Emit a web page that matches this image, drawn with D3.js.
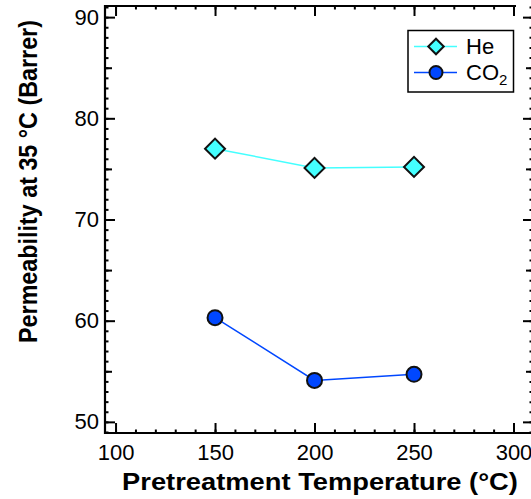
<!DOCTYPE html>
<html>
<head>
<meta charset="utf-8">
<script src="https://cdn.jsdelivr.net/npm/d3@7"></script>
<style>
  html, body { margin: 0; padding: 0; background: #fff; }
  svg { display: block; }
  text { font-family: "Liberation Sans", Arial, Helvetica, sans-serif; fill: #000; }
</style>
</head>
<body>
<svg id="chart" width="531" height="499"></svg>
<script>
// Pretreatment temperatures (°C)
const temperatures = [150, 200, 250];
// Pure-gas permeabilities at 35 °C (Barrer)
const heValues = [77.0, 75.1, 75.2];
const co2Values = [60.3, 54.1, 54.7];
// Axis ticks
const xTicks = [100, 150, 200, 250, 300];
const yTicks = [50, 60, 70, 80, 90];

const svg = d3.select("#chart");

const plotLeft = 105, plotBottom = 433, plotTop = 6, rightAxisX = 533;
const x = d3.scaleLinear().domain([94.7, 309.8]).range([plotLeft, rightAxisX]);
const y = d3.scaleLinear().domain([48.9, 91.1]).range([plotBottom, plotTop]);

const xMinor = d3.range(100, 301, 10);
const yMinor = d3.range(49, 92, 1);
const yMid = d3.range(55, 91, 10);

function strip(g) { g.select(".domain").remove(); g.selectAll("text").remove(); }

// ---- left axis ----
const gLeft = svg.append("g").attr("transform", `translate(${plotLeft},0)`);
gLeft.call(d3.axisLeft(y).tickValues(yMinor).tickSize(-3.5).tickFormat("")).call(strip);
gLeft.append("g").call(d3.axisLeft(y).tickValues(yMid).tickSize(-7).tickFormat("")).call(strip);
gLeft.append("g").call(d3.axisLeft(y).tickValues(yTicks).tickSizeInner(-10).tickSizeOuter(0).tickPadding(6).tickFormat(d3.format("d")))
  .call(g => g.select(".domain").remove())
  .call(g => g.selectAll("text").style("font-size", "22px").attr("font-family", null));

// ---- right axis (ticks only) ----
const gRight = svg.append("g").attr("transform", `translate(${rightAxisX},0)`);
gRight.call(d3.axisRight(y).tickValues(yMinor).tickSize(-3.5).tickFormat("")).call(strip);
gRight.append("g").call(d3.axisRight(y).tickValues(yMid).tickSize(-7).tickFormat("")).call(strip);
gRight.append("g").call(d3.axisRight(y).tickValues(yTicks).tickSize(-10).tickFormat("")).call(strip);

// ---- bottom axis ----
const gBottom = svg.append("g").attr("transform", `translate(0,${plotBottom})`);
gBottom.call(d3.axisBottom(x).tickValues(xMinor).tickSize(-3.5).tickFormat("")).call(strip);
gBottom.append("g").call(d3.axisBottom(x).tickValues(xTicks).tickSizeInner(-10).tickSizeOuter(0).tickPadding(11).tickFormat(d3.format("d")))
  .call(g => g.select(".domain").remove())
  .call(g => g.selectAll("text").style("font-size", "22px").attr("font-family", null));

// ---- top axis (ticks only) ----
const gTop = svg.append("g").attr("transform", `translate(0,${plotTop})`);
gTop.call(d3.axisTop(x).tickValues(xMinor).tickSize(-3.5).tickFormat("")).call(strip);
gTop.append("g").call(d3.axisTop(x).tickValues(xTicks).tickSize(-10).tickFormat("")).call(strip);

svg.selectAll(".tick line").attr("stroke", "#000").attr("stroke-width", 2);

// ---- frame ----
const frame = svg.append("g").attr("stroke", "#000").attr("stroke-width", 2.2).attr("fill", "none");
frame.append("line").attr("x1", plotLeft).attr("x2", plotLeft).attr("y1", plotTop - 1).attr("y2", plotBottom + 1);
frame.append("line").attr("x1", plotLeft - 1).attr("x2", 531).attr("y1", plotBottom).attr("y2", plotBottom);
frame.append("line").attr("x1", plotLeft - 1).attr("x2", 516).attr("y1", plotTop).attr("y2", plotTop);

// ---- series ----
const line = d3.line().x(d => x(d[0])).y(d => y(d[1]));
const heData = temperatures.map((t, i) => [t, heValues[i]]);
const co2Data = temperatures.map((t, i) => [t, co2Values[i]]);

const heColor = "#44ffff", co2Color = "#0047ff";

svg.append("path").datum(heData).attr("d", line)
  .attr("fill", "none").attr("stroke", heColor).attr("stroke-width", 1.5);
svg.append("path").datum(co2Data).attr("d", line)
  .attr("fill", "none").attr("stroke", co2Color).attr("stroke-width", 1.5);

const diamond = d3.symbol().type(d3.symbolSquare).size(200);
svg.selectAll(".he").data(heData).join("path")
  .attr("d", diamond)
  .attr("transform", d => `translate(${x(d[0])},${y(d[1])}) rotate(45)`)
  .attr("fill", heColor).attr("stroke", "#111").attr("stroke-width", 2);

svg.selectAll(".co2").data(co2Data).join("circle")
  .attr("cx", d => x(d[0])).attr("cy", d => y(d[1])).attr("r", 7.5)
  .attr("fill", co2Color).attr("stroke", "#111").attr("stroke-width", 2);

// ---- legend ----
const legend = svg.append("g");
legend.append("rect").attr("x", 408).attr("y", 30.5).attr("width", 105.5).attr("height", 61.5)
  .attr("fill", "#fff").attr("stroke", "#000").attr("stroke-width", 1.5);

legend.append("line").attr("x1", 414).attr("x2", 457).attr("y1", 46.5).attr("y2", 46.5)
  .attr("stroke", heColor).attr("stroke-width", 1.5);
legend.append("path").attr("d", d3.symbol().type(d3.symbolSquare).size(120))
  .attr("transform", "translate(436,46.5) rotate(45)")
  .attr("fill", heColor).attr("stroke", "#111").attr("stroke-width", 2);
legend.append("text").attr("x", 466).attr("y", 54).style("font-size", "22px").text("He");

legend.append("line").attr("x1", 414).attr("x2", 457).attr("y1", 72.5).attr("y2", 72.5)
  .attr("stroke", co2Color).attr("stroke-width", 1.5);
legend.append("circle").attr("cx", 436).attr("cy", 72.5).attr("r", 6.5)
  .attr("fill", co2Color).attr("stroke", "#111").attr("stroke-width", 2);
const co2Label = legend.append("text").attr("x", 466).attr("y", 80).style("font-size", "22px");
co2Label.append("tspan").text("CO");
co2Label.append("tspan").attr("dy", 5).style("font-size", "15px").text("2");

// ---- axis titles (scaled along their length to span the axis) ----
function fittedTitle(cx, cy, angle, size, span, label) {
  const g = svg.append("g");
  const t = g.append("text")
    .attr("text-anchor", "middle")
    .style("font-size", size + "px").style("font-weight", "bold")
    .text(label);
  const natural = t.node().getComputedTextLength();
  g.attr("transform", `translate(${cx},${cy}) rotate(${angle}) scale(${span / natural},1)`);
}
fittedTitle(320, 490, 0, 23.5, 396, "Pretreatment Temperature (°C)");
fittedTitle(36.5, 181.5, -90, 26, 323, "Permeability at 35 °C (Barrer)");
</script>
</body>
</html>
